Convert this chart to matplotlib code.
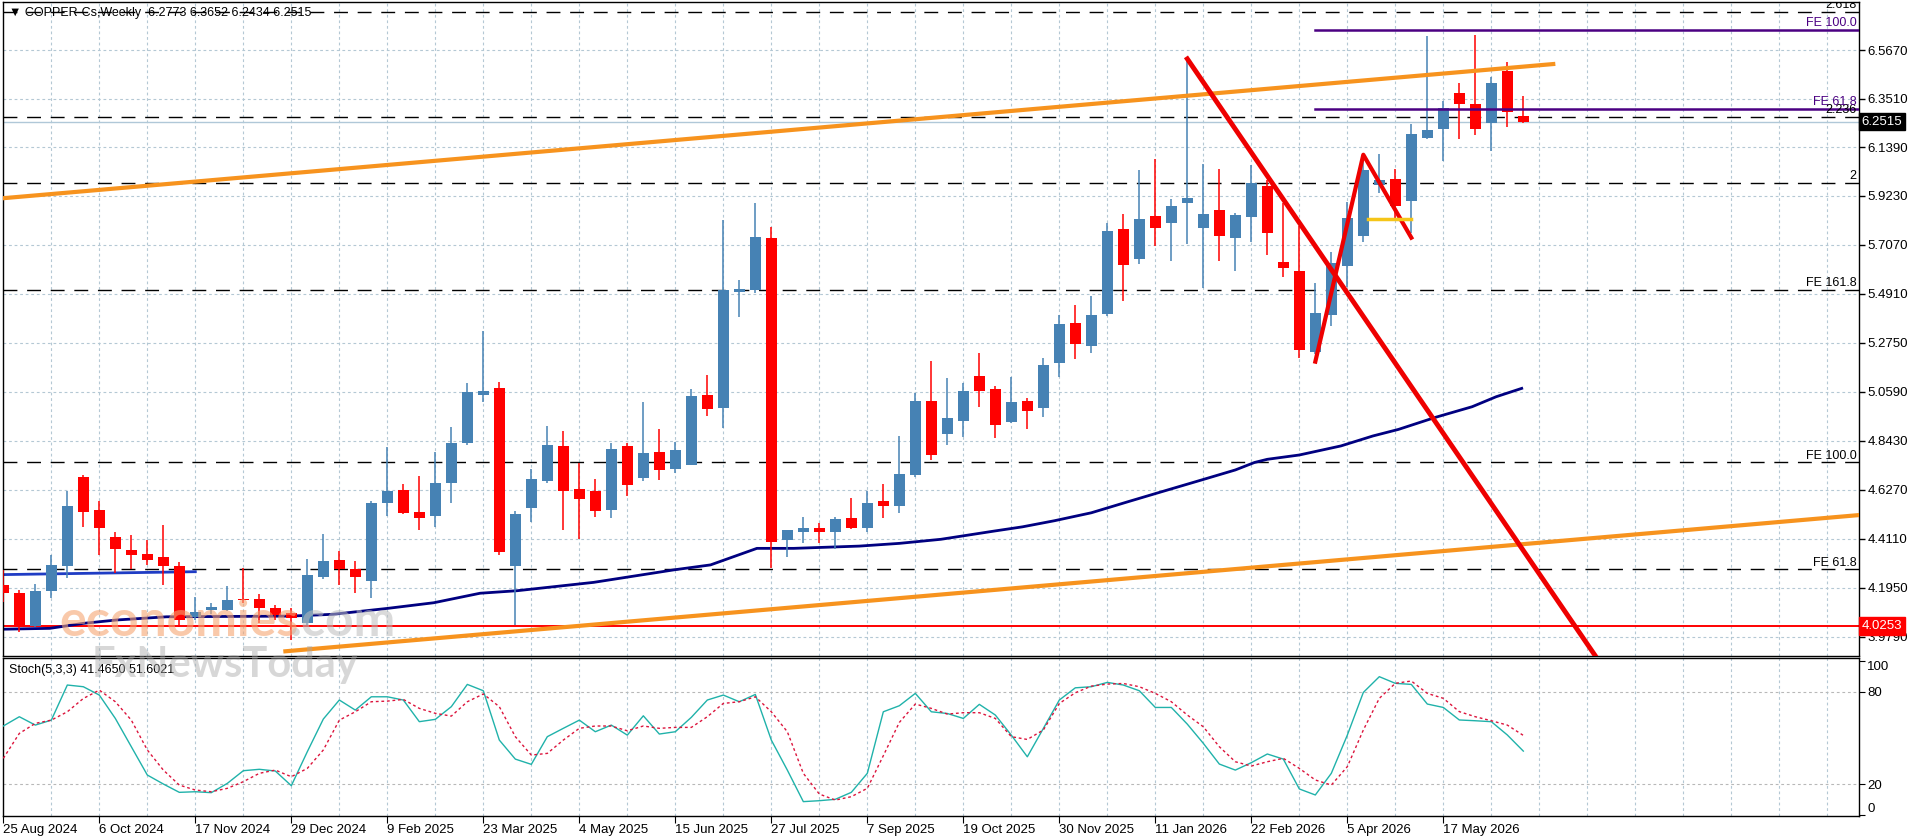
import numpy as np
import matplotlib.pyplot as plt
from matplotlib import transforms

# fuente parecida a la de MT4, con respaldo para el triangulo
plt.rcParams['font.family'] = ['Liberation Sans', 'DejaVu Sans']

# velas semanales COPPER-Cs (25 Aug 2024 .. 21 Jun 2026)
opens = [4.206, 4.169, 4.025, 4.180, 4.291, 4.685, 4.538, 4.419, 4.361, 4.344,
         4.329, 4.290, 4.065, 4.095, 4.096, 4.142, 4.144, 4.105, 4.081, 4.037,
         4.243, 4.317, 4.276, 4.226, 4.570, 4.626, 4.529, 4.513, 4.658, 4.832,
         5.045, 5.075, 4.288, 4.548, 4.666, 4.820, 4.629, 4.622, 4.538, 4.820,
         4.680, 4.792, 4.719, 4.736, 5.045, 4.986, 5.501, 5.508, 5.739, 4.403,
         4.439, 4.460, 4.439, 4.504, 4.460, 4.575, 4.557, 4.692, 5.020, 4.871,
         4.931, 5.128, 5.070, 4.927, 5.018, 4.989, 5.185, 5.364, 5.263, 5.402,
         5.777, 5.644, 5.835, 5.802, 5.894, 5.783, 5.861, 5.739, 5.832, 5.967,
         5.633, 5.592, 5.233, 5.398, 5.616, 5.748, 5.973, 6.000, 5.901, 6.178,
         6.219, 6.378, 6.327, 6.244, 6.473, 6.2773]
highs = [4.272, 4.185, 4.211, 4.340, 4.622, 4.690, 4.575, 4.442, 4.428, 4.406,
         4.471, 4.309, 4.155, 4.126, 4.202, 4.280, 4.166, 4.120, 4.103, 4.319,
         4.431, 4.358, 4.314, 4.575, 4.817, 4.653, 4.688, 4.795, 4.905, 5.097,
         5.325, 5.104, 4.531, 4.717, 4.906, 4.888, 4.744, 4.675, 4.832, 4.832,
         5.016, 4.895, 4.839, 5.072, 5.133, 5.817, 5.552, 5.894, 5.788, 4.447,
         4.508, 4.479, 4.508, 4.592, 4.623, 4.653, 4.864, 5.053, 5.195, 5.118,
         5.096, 5.228, 5.084, 5.122, 5.030, 5.206, 5.398, 5.442, 5.482, 5.802,
         5.842, 6.038, 6.086, 5.910, 6.530, 6.064, 6.042, 5.849, 6.060, 5.994,
         5.891, 5.791, 5.538, 5.677, 5.895, 6.082, 6.110, 6.044, 6.239, 6.630,
         6.344, 6.420, 6.634, 6.447, 6.516, 6.3652]
lows = [4.132, 4.001, 4.020, 4.150, 4.236, 4.461, 4.339, 4.261, 4.276, 4.295,
        4.206, 4.022, 4.052, 4.080, 4.090, 4.126, 4.037, 4.050, 3.963, 4.030,
        4.231, 4.207, 4.173, 4.151, 4.513, 4.520, 4.450, 4.464, 4.570, 4.825,
        5.016, 4.339, 4.030, 4.486, 4.656, 4.450, 4.410, 4.508, 4.504, 4.597,
        4.667, 4.670, 4.700, 4.736, 4.953, 4.898, 5.391, 5.497, 4.281, 4.328,
        4.391, 4.391, 4.366, 4.454, 4.442, 4.501, 4.526, 4.681, 4.758, 4.824,
        4.861, 4.993, 4.853, 4.920, 4.893, 4.946, 5.126, 5.203, 5.232, 5.394,
        5.460, 5.623, 5.702, 5.638, 5.710, 5.516, 5.638, 5.594, 5.722, 5.663,
        5.564, 5.207, 5.226, 5.350, 5.523, 5.722, 5.934, 5.821, 5.761, 6.176,
        6.077, 6.176, 6.193, 6.121, 6.227, 6.2434]
closes = [4.172, 4.022, 4.180, 4.294, 4.553, 4.530, 4.460, 4.364, 4.339, 4.317,
          4.288, 4.052, 4.085, 4.110, 4.140, 4.138, 4.107, 4.075, 4.059, 4.250,
          4.313, 4.276, 4.241, 4.570, 4.622, 4.526, 4.504, 4.656, 4.832, 5.057,
          5.064, 4.350, 4.519, 4.675, 4.825, 4.623, 4.586, 4.531, 4.807, 4.648,
          4.788, 4.714, 4.803, 5.041, 4.983, 5.508, 5.513, 5.744, 4.394, 4.447,
          4.460, 4.439, 4.498, 4.460, 4.570, 4.557, 4.697, 5.020, 4.780, 4.942,
          5.062, 5.064, 4.912, 5.012, 4.975, 5.177, 5.358, 5.269, 5.398, 5.769,
          5.619, 5.822, 5.783, 5.879, 5.916, 5.844, 5.748, 5.839, 5.979, 5.758,
          5.604, 5.244, 5.405, 5.626, 5.825, 6.037, 5.995, 5.879, 6.198, 6.212,
          6.312, 6.327, 6.219, 6.422, 6.293, 6.2515]

# media movil (vertices leidos: indice de vela, precio)
ma_x = [-0.2, 2.9, 5.0, 7.1, 10.2, 17.9, 20.6, 24.0, 26.9, 29.8, 32.1, 36.9,
        41.9, 44.2, 47.1, 49.4, 53.5, 56.0, 58.6, 61.9, 63.7, 65.7, 68.0, 70.3,
        72.4, 74.9, 77.0, 78.2, 79.0, 81.0, 83.6, 85.6, 87.2, 89.5, 91.8, 93.3, 94.9]
ma_y = [4.011, 4.015, 4.037, 4.052, 4.066, 4.069, 4.077, 4.103, 4.128, 4.170,
        4.181, 4.218, 4.273, 4.295, 4.368, 4.368, 4.378, 4.390, 4.408, 4.444,
        4.463, 4.490, 4.525, 4.574, 4.618, 4.670, 4.714, 4.747, 4.761, 4.780,
        4.820, 4.864, 4.893, 4.946, 4.993, 5.037, 5.074]

# estocastico (5,3,3)
stoch_k = [57.7, 63.7, 58.3, 61.5, 84.2, 83.1, 77.7, 62.6, 44.3, 26.0,
           20.2, 14.8, 15.2, 14.6, 20.6, 28.8, 29.7, 28.6, 19.1, 41.1,
           62.2, 74.5, 68.0, 76.6, 76.6, 74.5, 60.5, 62.0, 70.2, 84.6,
           80.5, 48.6, 36.3, 32.9, 50.8, 56.2, 61.5, 54.0, 58.3, 51.8,
           64.3, 52.5, 54.0, 63.3, 74.5, 77.7, 73.4, 78.1, 48.6, 29.2,
           8.8, 9.4, 10.3, 14.8, 27.1, 66.9, 70.8, 78.8, 66.9, 65.8,
           62.6, 71.7, 64.8, 51.8, 37.8, 56.1, 74.5, 82.4, 83.1, 85.9,
           84.2, 80.5, 69.7, 69.7, 58.9, 46.5, 33.1, 29.2, 34.0, 39.6,
           36.3, 17.0, 13.1, 27.1, 51.8, 79.4, 89.6, 85.3, 84.6, 71.9,
           69.7, 61.6, 61.1, 60.5, 51.9, 41.47]
stoch_d = [36.8, 52.9, 59.4, 61.5, 66.9, 75.5, 80.9, 73.4, 61.5, 42.2,
           29.2, 19.5, 16.3, 15.2, 17.4, 21.7, 27.1, 29.2, 24.9, 30.3,
           42.2, 61.5, 66.9, 73.4, 73.8, 74.9, 69.1, 65.9, 64.1, 73.4,
           78.4, 70.2, 50.8, 38.9, 40.0, 48.6, 56.2, 57.7, 57.7, 54.6,
           57.7, 56.2, 56.8, 56.8, 63.7, 72.3, 73.4, 76.6, 66.9, 54.0,
           27.1, 13.7, 9.8, 12.0, 17.4, 38.5, 60.0, 71.9, 69.1, 65.4,
           66.3, 66.3, 62.6, 50.8, 49.0, 55.1, 72.3, 79.2, 83.5, 84.8,
           85.2, 83.1, 78.8, 73.4, 64.8, 57.2, 44.3, 34.6, 31.8, 34.6,
           36.8, 30.3, 22.8, 19.5, 31.4, 55.1, 75.6, 85.3, 86.8, 78.8,
           75.6, 67.0, 63.7, 61.1, 58.3, 51.62]

date_labels = ["25 Aug 2024", "6 Oct 2024", "17 Nov 2024", "29 Dec 2024",
               "9 Feb 2025", "23 Mar 2025", "4 May 2025", "15 Jun 2025",
               "27 Jul 2025", "7 Sep 2025", "19 Oct 2025", "30 Nov 2025",
               "11 Jan 2026", "22 Feb 2026", "5 Apr 2026", "17 May 2026"]
price_ticks = [6.5670, 6.3510, 6.1390, 5.9230, 5.7070, 5.4910, 5.2750,
               5.0590, 4.8430, 4.6270, 4.4110, 4.1950, 3.9790]

# niveles horizontales discontinuos (precio, etiqueta)
dash_levels = [6.736, 6.270, 5.979, 5.508, 4.747, 4.275]
dash_names = ["2.618", "2.236", "2", "FE 161.8", "FE 100.0", "FE 61.8"]
fe_levels = [6.656, 6.306]
fe_names = ["FE 100.0", "FE 61.8"]

# objetos dibujados (extremos)
chan_up_x, chan_up_y = [-0.2, 97.0], [5.912, 6.506]
chan_lo_x, chan_lo_y = [17.5, 116.0], [3.913, 4.515]
trend_x, trend_y = [74.0, 100.0], [6.528, 3.842]
zig_x, zig_y = [82.0, 85.0, 88.0], [5.192, 6.105, 5.739]
yel_x, yel_y = [85.3, 88.0], [5.821, 5.821]
blue_x, blue_y = [-0.2, 12.0], [4.252, 4.265]

last_price = 6.2515
red_level = 4.0253

BULL = '#4682B4'
BEAR = '#FF0000'
GRID = '#b4c8d4'
XMIN, XMAX = -0.02, 115.98


def dibujar_velas(ax):
    o = np.array(opens); c = np.array(closes)
    h = np.array(highs); l = np.array(lows)
    x = np.arange(len(o))
    col = np.where(c >= o, BULL, BEAR)
    ax.vlines(x, l, h, colors=col, lw=1.1, zorder=3)
    alto = np.maximum(np.abs(c - o), 0.005)
    ax.bar(x, alto, width=0.66, bottom=np.minimum(o, c), color=col,
           lw=0, zorder=3)


def main():
    fig = plt.figure(figsize=(19.16, 8.4), dpi=100)
    W, H = 1916.0, 840.0
    ax = fig.add_axes([3 / W, 1 - 656 / H, 1856 / W, 654 / H])
    ax2 = fig.add_axes([3 / W, 1 - 815.7 / H, 1856 / W, 158.2 / H])

    # panel principal
    ax.set_xlim(XMIN, XMAX)
    ax.set_ylim(3.893, 6.779)
    vgrid = np.arange(3, 116, 3)
    for v in vgrid:
        ax.axvline(v, color=GRID, lw=0.8, ls=(0, (2.5, 2.5)), zorder=0)
        ax2.axvline(v, color=GRID, lw=0.8, ls=(0, (2.5, 2.5)), zorder=0)
    for p in price_ticks:
        ax.axhline(p, color=GRID, lw=0.8, ls=(0, (2.5, 2.5)), zorder=0)

    ax.axhline(last_price, color='#b0c8d8', lw=1, zorder=1)
    for lv in dash_levels:
        ax.axhline(lv, color='black', lw=1, ls=(0, (10, 7)), zorder=1.5)
    for lv, nm in zip(dash_levels, dash_names):
        ax.text(XMAX - 0.15, lv + 0.004, nm, ha='right', va='bottom',
                fontsize=9, color='black', zorder=6, clip_on=True)
    for lv, nm in zip(fe_levels, fe_names):
        ax.plot([82, XMAX], [lv, lv], color='#4B0082', lw=1.8, zorder=4)
        ax.text(XMAX - 0.15, lv + 0.004, nm, ha='right', va='bottom',
                fontsize=9, color='#4B0082', zorder=6)

    ax.axhline(red_level, color='#FF0000', lw=1.4, zorder=2)
    ax.plot(blue_x, blue_y, color='#1f3cc4', lw=2, zorder=2)
    ax.plot(ma_x, ma_y, color='#000080', lw=2, zorder=2)
    ax.plot(chan_up_x, chan_up_y, color='#F7931E', lw=3, zorder=4,
            solid_capstyle='butt')
    ax.plot(chan_lo_x, chan_lo_y, color='#F7931E', lw=3, zorder=4,
            solid_capstyle='butt')

    dibujar_velas(ax)

    ax.plot(trend_x, trend_y, color='#EE0000', lw=3.5, zorder=5)
    ax.plot(zig_x, zig_y, color='#EE0000', lw=3, zorder=5)
    ax.plot(yel_x, yel_y, color='#F5C518', lw=2.5, zorder=5)

    ax.yaxis.tick_right()
    ax.set_yticks(price_ticks)
    ax.set_yticklabels(['%.4f' % p for p in price_ticks])
    ax.tick_params(axis='y', length=4, width=1, labelsize=9.5, pad=2)
    ax.set_xticks([])

    tr = transforms.blended_transform_factory(ax.transAxes, ax.transData)
    ax.text(1.0015, last_price, '%.4f' % last_price, transform=tr, ha='left',
            va='center', fontsize=9.5, color='white', zorder=10,
            bbox=dict(boxstyle='square,pad=0.2', fc='black', ec='black'))
    ax.text(1.0015, red_level, '%.4f' % red_level, transform=tr, ha='left',
            va='center', fontsize=9.5, color='white', zorder=10,
            bbox=dict(boxstyle='square,pad=0.2', fc='#FF0000', ec='#FF0000'))

    ax.text(0.003, 0.992, '▼ COPPER-Cs,Weekly  6.2773 6.3652 6.2434 6.2515',
            transform=ax.transAxes, ha='left', va='top', fontsize=9,
            zorder=10)

    # panel estocastico
    xs = np.arange(len(stoch_k))
    ax2.set_xlim(XMIN, XMAX)
    ax2.set_ylim(-0.3, 102)
    for g in (20, 80):
        ax2.axhline(g, color='#b8b8b8', lw=0.8, ls=(0, (2.5, 2.5)), zorder=0)
    ax2.plot(xs, stoch_k, color='#20B2AA', lw=1, zorder=3)
    ax2.plot(xs, stoch_d, color='#DC143C', lw=1, ls=(0, (2, 2)), zorder=3)
    ax2.yaxis.tick_right()
    ax2.set_yticks([0, 20, 80, 100])
    ax2.set_yticklabels(['0', '20', '80', '100'])
    ax2.tick_params(axis='y', length=4, labelsize=9.5, pad=2)
    labs = ax2.get_yticklabels()
    labs[0].set_va('bottom')
    labs[3].set_va('top')
    ax2.set_xticks(np.arange(0, 91, 6))
    ax2.set_xticklabels(date_labels, ha='left')
    ax2.tick_params(axis='x', length=5, labelsize=9.5, pad=1)
    ax2.text(0.003, 0.96, 'Stoch(5,3,3) 41.4650 51.6021',
             transform=ax2.transAxes, ha='left', va='top', fontsize=9)

    for a in (ax, ax2):
        for s in a.spines.values():
            s.set_linewidth(1)

    # marca de agua
    fig.text(59 / W, 1 - 636 / H, 'economies', fontsize=36,
             fontweight='bold', family='Lato', color='#F6A572', alpha=0.6,
             zorder=20)
    fig.text(290 / W, 1 - 636 / H, '.com', fontsize=36, fontweight='bold',
             family='Lato', color='#bdbdbd', alpha=0.55, zorder=20)
    fig.text(92 / W, 1 - 677 / H, 'FxNewsToday', fontsize=30,
             fontweight='bold', family='Lato', color='#a8a8a8', alpha=0.45,
             zorder=20)

    fig.savefig('out.png', dpi=100)


if __name__ == "__main__":
    main()
